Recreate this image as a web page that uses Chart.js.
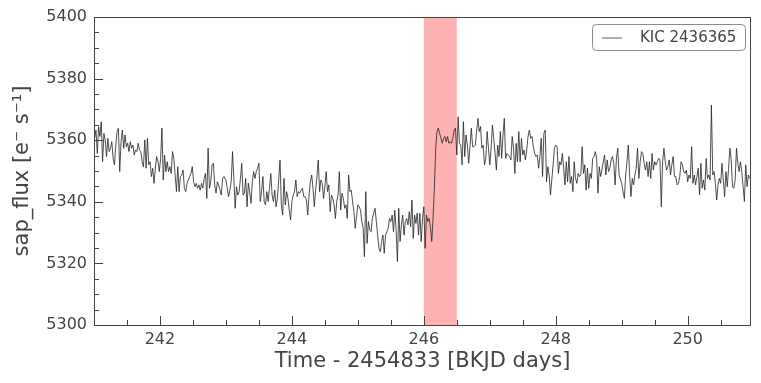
<!DOCTYPE html>
<html>
<head>
<meta charset="utf-8">
<script src="https://cdn.jsdelivr.net/npm/chart.js@4.4.0/dist/chart.umd.min.js"></script>
<style>
  html, body { margin: 0; padding: 0; background: #fff; }
</style>
</head>
<body>
<canvas id="lc" width="761" height="383"></canvas>
<script>
// light curve in five 2-day pieces
const timeA = [
  241.01,241.03,241.05,241.07,241.09,241.11,241.13,241.15,241.17,241.19,
  241.21,241.23,241.25,241.27,241.29,241.31,241.33,241.35,241.37,241.39,
  241.41,241.43,241.45,241.47,241.49,241.51,241.53,241.55,241.57,241.59,
  241.61,241.63,241.65,241.67,241.69,241.71,241.73,241.75,241.77,241.79,
  241.81,241.83,241.85,241.87,241.89,241.91,241.93,241.95,241.97,241.99,
  242.01,242.03,242.05,242.07,242.09,242.11,242.13,242.15,242.17,242.19,
  242.21,242.23,242.25,242.27,242.29,242.31,242.33,242.35,242.37,242.39,
  242.41,242.43,242.45,242.47,242.49,242.51,242.53,242.55,242.57,242.59,
  242.61,242.63,242.65,242.67,242.69,242.71,242.73,242.75,242.77,242.79,
  242.81,242.83,242.85,242.87,242.89,242.91,242.93,242.95,242.97
];
const fluxA = [
  5360.6,5363.3,5355.7,5364.4,5361.2,5366.0,5353.0,5362.2,5360.1,5354.7,
  5360.6,5356.3,5357.4,5359.5,5354.1,5352.0,5358.4,5362.8,5363.9,5349.8,
  5359.5,5363.3,5357.4,5361.7,5357.9,5359.0,5356.3,5359.5,5357.4,5358.4,
  5355.2,5356.8,5356.3,5359.0,5356.8,5356.3,5353.0,5351.4,5360.1,5350.9,
  5360.6,5352.0,5353.0,5348.2,5350.9,5346.0,5350.9,5354.7,5353.0,5349.8,
  5354.1,5363.9,5347.1,5355.2,5349.8,5353.0,5349.8,5351.4,5349.2,5356.3,
  5354.1,5348.7,5343.3,5351.4,5343.3,5348.2,5348.7,5350.3,5344.4,5343.3,
  5346.0,5347.1,5348.2,5349.2,5351.4,5346.5,5344.9,5346.0,5344.4,5345.5,
  5343.8,5346.0,5344.4,5347.6,5349.2,5341.1,5357.4,5344.4,5346.5,5352.0,
  5352.5,5345.5,5342.8,5346.5,5345.5,5343.8,5342.2,5347.6,5348.2
];

const timeB = [
  243.00,243.02,243.04,243.06,243.08,243.10,243.12,243.14,243.16,243.18,
  243.20,243.22,243.24,243.26,243.28,243.30,243.32,243.34,243.36,243.38,
  243.40,243.42,243.44,243.46,243.48,243.50,243.52,243.54,243.56,243.58,
  243.60,243.62,243.64,243.66,243.68,243.70,243.72,243.74,243.76,243.78,
  243.80,243.82,243.84,243.86,243.88,243.90,243.92,243.94,243.96,243.98,
  244.00,244.02,244.04,244.06,244.08,244.10,244.12,244.14,244.16,244.18,
  244.20,244.22,244.24,244.26,244.28,244.30,244.32,244.34,244.36,244.38,
  244.40,244.42,244.44,244.46,244.48,244.50,244.52,244.54,244.56,244.58,
  244.60,244.62,244.64,244.66,244.68,244.70,244.72,244.74,244.76,244.78,
  244.80,244.82,244.84,244.86,244.88,244.90,244.92,244.94,244.96
];
const fluxB = [
  5347.1,5344.4,5341.7,5343.8,5346.5,5356.3,5347.6,5337.9,5344.9,5342.2,
  5343.3,5347.6,5352.5,5342.2,5342.8,5347.6,5338.4,5346.0,5343.3,5339.5,
  5346.5,5349.8,5347.6,5349.8,5350.9,5352.5,5340.1,5343.3,5348.2,5340.1,
  5339.0,5343.3,5340.1,5344.4,5349.2,5342.2,5340.1,5343.8,5338.4,5341.1,
  5347.1,5353.6,5339.0,5335.7,5347.6,5339.0,5343.3,5341.1,5337.3,5334.1,
  5340.1,5342.2,5343.3,5347.1,5341.7,5343.3,5342.8,5343.8,5344.4,5341.7,
  5341.7,5340.6,5335.7,5342.2,5346.5,5348.7,5344.4,5338.4,5343.8,5348.2,
  5353.6,5343.3,5347.1,5346.0,5341.1,5344.9,5349.8,5343.3,5345.5,5336.8,
  5342.2,5341.1,5339.0,5334.6,5340.1,5342.2,5349.8,5337.3,5342.8,5341.1,
  5337.9,5339.0,5334.6,5348.7,5343.3,5343.8,5340.1,5336.8,5331.4
];

const timeC = [
  245.00,245.02,245.04,245.06,245.08,245.10,245.12,245.14,245.16,245.18,
  245.20,245.22,245.24,245.26,245.28,245.30,245.32,245.34,245.36,245.38,
  245.40,245.42,245.44,245.46,245.48,245.50,245.52,245.54,245.56,245.58,
  245.60,245.62,245.64,245.66,245.68,245.70,245.72,245.74,245.76,245.78,
  245.80,245.82,245.84,245.86,245.88,245.90,245.92,245.94,245.96,245.98,
  246.00,246.02,246.04,246.06,246.08,246.10,246.12,246.14,246.16,246.18,
  246.20,246.22,246.24,246.26,246.28,246.30,246.32,246.34,246.36,246.38,
  246.40,246.42,246.44,246.46,246.48,246.50,246.52,246.54,246.56,246.58,
  246.60,246.62,246.64,246.66,246.68,246.70,246.72,246.74,246.76,246.78,
  246.80,246.82,246.84,246.86,246.88,246.90,246.92,246.94,246.96
];
const fluxC = [
  5339.0,5338.4,5337.3,5333.6,5331.4,5322.2,5343.3,5326.5,5333.6,5330.9,
  5330.3,5334.6,5336.3,5337.9,5333.6,5329.2,5324.9,5323.8,5327.1,5329.2,
  5323.3,5329.2,5330.3,5331.4,5334.6,5333.6,5335.7,5330.3,5337.3,5330.9,
  5320.6,5337.9,5327.1,5332.5,5335.7,5329.2,5333.6,5334.6,5332.5,5336.8,
  5331.9,5340.6,5328.1,5335.7,5333.0,5336.3,5329.2,5336.3,5327.1,5334.6,
  5338.4,5324.9,5335.7,5333.6,5334.6,5331.9,5327.1,5334.6,5344.4,5357.4,
  5362.8,5363.9,5362.2,5360.6,5359.0,5360.6,5361.2,5359.5,5361.2,5359.0,
  5359.5,5359.0,5360.6,5363.3,5363.9,5355.2,5367.6,5359.0,5358.4,5352.0,
  5366.0,5354.7,5361.7,5358.4,5352.5,5357.9,5363.9,5357.9,5357.9,5358.4,
  5362.8,5367.1,5362.8,5364.4,5357.4,5358.4,5352.0,5354.1,5362.8
];

const timeD = [
  247.00,247.02,247.04,247.06,247.08,247.10,247.12,247.14,247.16,247.18,
  247.20,247.22,247.24,247.26,247.28,247.30,247.32,247.34,247.36,247.38,
  247.40,247.42,247.44,247.46,247.48,247.50,247.52,247.54,247.56,247.58,
  247.60,247.62,247.64,247.66,247.68,247.70,247.72,247.74,247.76,247.78,
  247.80,247.82,247.84,247.86,247.88,247.90,247.92,247.94,247.96,247.98,
  248.00,248.02,248.04,248.06,248.08,248.10,248.12,248.14,248.16,248.18,
  248.20,248.22,248.24,248.26,248.28,248.30,248.32,248.34,248.36,248.38,
  248.40,248.42,248.44,248.46,248.48,248.50,248.52,248.54,248.56,248.58,
  248.60,248.62,248.64,248.66,248.68,248.70,248.72,248.74,248.76,248.78,
  248.80,248.82,248.84,248.86,248.88,248.90,248.92,248.94,248.96
];
const fluxD = [
  5352.0,5357.4,5364.9,5360.6,5355.7,5350.3,5358.4,5354.7,5362.8,5354.1,
  5361.7,5367.1,5354.1,5355.7,5355.2,5354.7,5353.6,5361.2,5357.4,5349.2,
  5359.0,5353.0,5362.8,5353.0,5360.6,5355.2,5356.8,5353.6,5356.8,5361.2,
  5363.3,5360.6,5361.2,5357.9,5355.7,5354.7,5355.2,5350.9,5354.7,5360.6,
  5348.2,5362.2,5363.3,5346.5,5351.4,5348.7,5342.2,5347.1,5352.0,5357.4,
  5358.4,5357.9,5349.2,5353.0,5352.0,5355.7,5350.9,5345.5,5353.0,5346.5,
  5354.7,5346.0,5348.2,5343.3,5353.0,5347.6,5346.0,5349.2,5348.2,5348.7,
  5357.9,5349.2,5352.0,5343.8,5350.9,5344.4,5349.2,5347.6,5354.1,5354.7,
  5356.3,5354.1,5342.8,5351.4,5348.2,5350.3,5353.0,5355.2,5348.7,5353.6,
  5349.8,5350.9,5353.6,5354.7,5352.5,5345.5,5354.1,5357.4,5348.7
];

const timeE = [
  249.00,249.02,249.04,249.06,249.08,249.10,249.12,249.14,249.16,249.18,
  249.20,249.22,249.24,249.26,249.28,249.30,249.32,249.34,249.36,249.38,
  249.40,249.42,249.44,249.46,249.48,249.50,249.52,249.54,249.56,249.58,
  249.60,249.62,249.64,249.66,249.68,249.70,249.72,249.74,249.76,249.78,
  249.80,249.82,249.84,249.86,249.88,249.90,249.92,249.94,249.96,249.98,
  250.00,250.02,250.04,250.06,250.08,250.10,250.12,250.14,250.16,250.18,
  250.20,250.22,250.24,250.26,250.28,250.30,250.32,250.34,250.36,250.38,
  250.40,250.42,250.44,250.46,250.48,250.50,250.52,250.54,250.56,250.58,
  250.60,250.62,250.64,250.66,250.68,250.70,250.72,250.74,250.76,250.78,
  250.80,250.82,250.84,250.86,250.88,250.90,250.92,250.94
];
const fluxE = [
  5346.0,5343.3,5341.1,5348.7,5353.0,5358.4,5348.7,5341.7,5347.6,5345.5,
  5348.7,5350.9,5357.4,5347.6,5353.0,5356.3,5355.7,5352.5,5350.3,5353.0,
  5348.2,5353.0,5347.6,5355.7,5350.3,5353.0,5352.0,5353.0,5354.1,5353.6,
  5338.4,5353.0,5357.4,5353.0,5350.3,5351.4,5353.6,5348.7,5352.0,5354.7,
  5348.2,5348.2,5345.5,5346.0,5348.2,5353.0,5352.0,5349.8,5349.2,5350.3,
  5346.5,5348.7,5347.6,5357.9,5346.0,5348.7,5345.5,5348.2,5350.9,5342.2,
  5352.5,5344.4,5347.1,5343.8,5354.1,5347.6,5348.7,5347.1,5371.4,5348.7,
  5349.8,5346.0,5340.6,5345.5,5347.6,5346.0,5352.5,5347.1,5341.7,5349.8,
  5344.9,5350.9,5357.4,5353.6,5344.9,5344.4,5347.1,5357.4,5352.5,5349.8,
  5353.0,5349.8,5344.9,5340.1,5352.0,5344.9,5348.7,5347.6
];

const seriesName = 'KIC 2436365';
const xMajorTicks = [242, 244, 246, 248, 250];
const xMinorTicks = [241, 241.5, 242.5, 243, 243.5, 244.5, 245, 245.5, 246.5, 247, 247.5,
                     248.5, 249, 249.5, 250.5];
const yMajorTicks = [5300, 5320, 5340, 5360, 5380, 5400];
const yMinorTicks = [5305, 5310, 5315, 5325, 5330, 5335, 5345, 5350, 5355,
                     5365, 5370, 5375, 5385, 5390, 5395];
const spanStart = 246.0;
const spanEnd = 246.5;

const times = [].concat(timeA, timeB, timeC, timeD, timeE);
const flux = [].concat(fluxA, fluxB, fluxC, fluxD, fluxE);
const points = times.map((t, i) => ({x: t, y: flux[i]}));

const INK = '#444444';
const FONT = "'DejaVu Sans', sans-serif";

// red band behind the curve
const span = {
  id: 'span',
  beforeDatasetsDraw(chart) {
    const {ctx, chartArea: a, scales: {x}} = chart;
    const x0 = x.getPixelForValue(spanStart);
    const x1 = x.getPixelForValue(spanEnd);
    ctx.save();
    ctx.fillStyle = 'rgba(255, 0, 0, 0.3)';
    ctx.fillRect(x0, a.top, x1 - x0, a.bottom - a.top);
    ctx.restore();
  }
};

// frame, inward ticks and the legend box
const frame = {
  id: 'frame',
  afterDatasetsDraw(chart) {
    const {ctx, chartArea: a, scales: {x, y}} = chart;
    ctx.save();
    ctx.strokeStyle = INK;
    ctx.lineWidth = 1;
    ctx.beginPath();
    function xt(v, len) {
      const px = Math.round(x.getPixelForValue(v)) + 0.5;
      ctx.moveTo(px, a.bottom);
      ctx.lineTo(px, a.bottom - len);
    }
    function yt(v, len) {
      const py = Math.round(y.getPixelForValue(v)) + 0.5;
      ctx.moveTo(a.left, py);
      ctx.lineTo(a.left + len, py);
    }
    xMajorTicks.forEach(v => xt(v, 9));
    xMinorTicks.forEach(v => xt(v, 5));
    yMajorTicks.forEach(v => yt(v, 9));
    yMinorTicks.forEach(v => yt(v, 5));
    ctx.stroke();
    ctx.strokeRect(Math.round(a.left) + 0.5, Math.round(a.top) + 0.5,
                   Math.round(a.right - a.left) - 1, Math.round(a.bottom - a.top));

    // legend
    const bx = a.right - 159, by = a.top + 7, bw = 153, bh = 26;
    ctx.beginPath();
    ctx.roundRect(bx + 0.5, by + 0.5, bw, bh, 4);
    ctx.fillStyle = 'rgba(255,255,255,0.8)';
    ctx.fill();
    ctx.strokeStyle = '#8a8a8a';
    ctx.stroke();
    ctx.beginPath();
    ctx.moveTo(bx + 10, by + 14);
    ctx.lineTo(bx + 30, by + 14);
    ctx.strokeStyle = '#333';
    ctx.lineWidth = 0.8;
    ctx.stroke();
    ctx.fillStyle = INK;
    ctx.font = '15px ' + FONT;
    ctx.textBaseline = 'middle';
    ctx.fillText(seriesName, bx + 48, by + 14);
    ctx.restore();
  }
};

new Chart(document.getElementById('lc'), {
  type: 'line',
  data: {
    datasets: [{
      label: seriesName,
      data: points,
      borderColor: '#222',
      borderWidth: 0.8,
      pointRadius: 0,
      tension: 0,
      fill: false
    }]
  },
  options: {
    responsive: false,
    animation: false,
    devicePixelRatio: 1,
    layout: { padding: { top: 17, right: 10, left: 0, bottom: 0 } },
    plugins: {
      legend: { display: false },
      tooltip: { enabled: false }
    },
    scales: {
      x: {
        type: 'linear',
        min: 241.0,
        max: 250.96,
        grid: { display: false, drawTicks: false },
        border: { display: false },
        afterBuildTicks: s => { s.ticks = xMajorTicks.map(v => ({value: v})); },
        afterFit: s => { s.height = 58; },
        ticks: {
          color: INK,
          padding: 5,
          maxRotation: 0,
          font: { family: FONT, size: 16 },
          callback: v => String(v)
        },
        title: {
          display: true,
          text: 'Time - 2454833 [BKJD days]',
          color: INK,
          padding: { bottom: 9, top: 0 },
          font: { family: FONT, size: 21 }
        }
      },
      y: {
        min: 5300,
        max: 5400,
        grid: { display: false, drawTicks: false },
        border: { display: false },
        afterBuildTicks: s => { s.ticks = yMajorTicks.map(v => ({value: v})); },
        afterFit: s => { s.width = 94; },
        ticks: {
          color: INK,
          padding: 7,
          font: { family: FONT, size: 16 },
          callback: v => String(v)
        },
        title: {
          display: true,
          text: 'sap_flux [e\u207B s\u207B\u00B9]',
          color: INK,
          padding: { top: 10, bottom: 0 },
          font: { family: FONT, size: 21 }
        }
      }
    }
  },
  plugins: [span, frame]
});
</script>
</body>
</html>
